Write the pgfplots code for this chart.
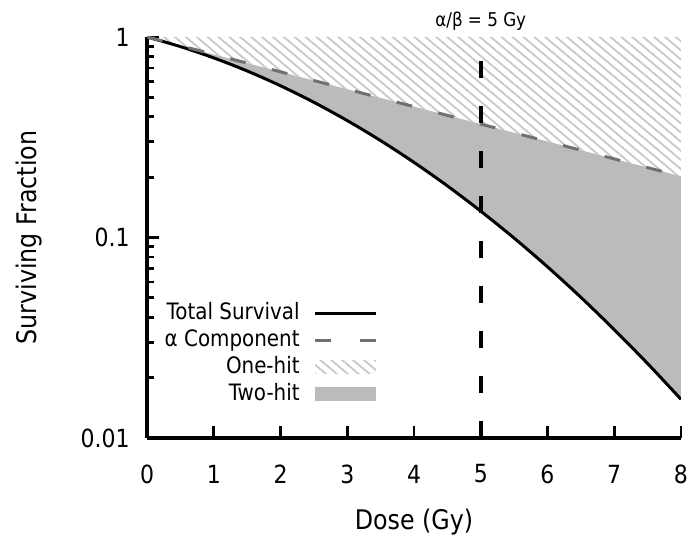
\documentclass[border=0pt]{standalone}
\usepackage{fontspec}
\setmainfont{DejaVu Sans}[FakeStretch=0.88]
\usepackage{pgfplots}
\pgfplotsset{compat=1.18}
\usepgfplotslibrary{fillbetween}
\usetikzlibrary{patterns.meta}

\definecolor{twohit}{RGB}{187,187,187}
\definecolor{alphagray}{RGB}{112,112,112}
\definecolor{hatchgray}{RGB}{200,200,200}

\begin{document}
\begin{tikzpicture}
\begin{axis}[
  scale only axis, width=267pt, height=200.5pt,
  ymode=log, xmin=0, xmax=8, ymin=0.01, ymax=1,
  axis lines=left, axis line style={-, line width=1.6pt},
  tick align=inside,
  major tick length=6pt, minor tick length=3.5pt,
  every tick/.style={black, line width=1.4pt},
  xtick={0,...,8}, ytick={0.01,0.1,1}, yticklabels={0.01,0.1,1},
  /pgf/number format/assume math mode=true,
  tick label style={font=\fontsize{12.5}{14}\selectfont, inner sep=0pt},
  xticklabel style={anchor=center, yshift=-18pt},
  yticklabel style={anchor=east, xshift=-8.5pt},
  label style={font=\fontsize{13.5}{16}\selectfont},
  xlabel={Dose (Gy)}, ylabel={Surviving Fraction},
  xlabel style={at={([yshift=-42pt]axis description cs:0.5,0)}, anchor=center},
  ylabel style={at={([xshift=-59pt]axis description cs:0,0.5)}, anchor=center},
  title={α/β = 5 Gy},
  every axis title/.style={at={(axis description cs:0.625,1)}, anchor=base, yshift=5pt,
    inner sep=0pt, font=\fontsize{9.5}{11}\selectfont},
  legend plot pos=right,
  legend cell align=right,
  legend style={draw=none, fill=none, at={(axis description cs:0.4326,0.340)}, anchor=north east,
    inner sep=0pt, font=\fontsize{11.3}{13}\selectfont,
    nodes={inner sep=0pt, text height=8.5pt, text depth=2.5pt}, row sep=2.5pt, column sep=7pt},
]
% legend entries
\addlegendimage{legend image code/.code={\draw[black, line width=1.5pt] (0pt,0pt) -- (30.5pt,0pt);}}
\addlegendentry{Total Survival}
\addlegendimage{legend image code/.code={\draw[alphagray, line width=1.5pt, dash pattern=on 8pt off 14.5pt] (0pt,0pt) -- (30.5pt,0pt);}}
\addlegendentry{α Component}
\addlegendimage{legend image code/.code={\path[draw=none, pattern={Lines[angle=-40,distance=3.5pt,line width=0.9pt]}, pattern color=hatchgray] (0pt,-3.3pt) rectangle (30.5pt,3.3pt);}}
\addlegendentry{One-hit}
\addlegendimage{legend image code/.code={\path[draw=none, fill=twohit] (0pt,-3.5pt) rectangle (30.5pt,3.5pt);}}
\addlegendentry{Two-hit}

% total survival, S = exp(-aD - bD^2)
\addplot[name path=total, black, line width=1.5pt, smooth, forget plot] coordinates {
  (0,1) (0.5,0.8958) (1,0.7866) (1.5,0.6771) (2,0.5712) (2.5,0.4724)
  (3,0.3829) (3.5,0.3042) (4,0.2369) (4.5,0.1809) (5,0.1353) (5.5,0.0993)
  (6,0.0714) (6.5,0.0503) (7,0.0347) (7.5,0.0235) (8,0.0156)};
% alpha (single-hit) component
\addplot[name path=alpha, draw=none, forget plot] coordinates {
  (0,1) (1,0.8187) (2,0.6703) (3,0.5488) (4,0.4493) (5,0.3679)
  (6,0.3012) (7,0.2466) (8,0.2019)};
\addplot[name path=top, draw=none, forget plot] coordinates {(0,1) (8,1)};

\addplot[twohit, forget plot] fill between[of=alpha and total];
\addplot[pattern={Lines[angle=-40,distance=3.5pt,line width=0.9pt]}, pattern color=hatchgray, forget plot]
  fill between[of=top and alpha];

\addplot[alphagray, line width=1.5pt, dash pattern=on 8pt off 13.5pt, forget plot] coordinates {
  (0,1) (1,0.8187) (2,0.6703) (3,0.5488) (4,0.4493) (5,0.3679)
  (6,0.3012) (7,0.2466) (8,0.2019)};

% alpha/beta marker
\addplot[black, line width=2pt, dash pattern=on 8.5pt off 14pt, forget plot] coordinates {(5,0.01) (5,1)};

\coordinate (bl) at (rel axis cs:0,0);
\coordinate (tr) at (rel axis cs:1,1);
\end{axis}
\pgfresetboundingbox
\path ([shift={(-73.5pt,-50.5pt)}]bl) rectangle ([shift={(6.5pt,18.5pt)}]tr);
\end{tikzpicture}
\end{document}
